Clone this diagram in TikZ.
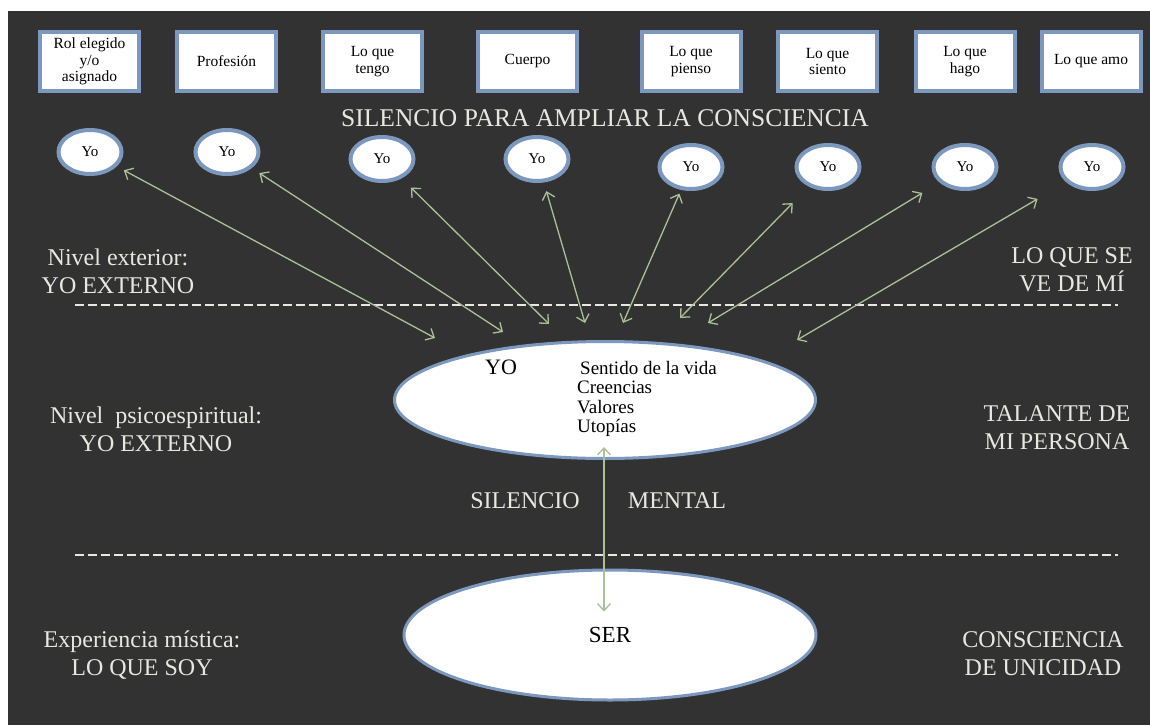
\documentclass[tikz,border=0pt]{standalone}
\usepackage{fontspec}
\setmainfont{Liberation Serif}
\usetikzlibrary{shapes.geometric,arrows.meta}
\definecolor{slatebg}{RGB}{50,50,50}
\definecolor{frameblue}{RGB}{124,152,190}
\definecolor{sagegreen}{RGB}{170,192,150}
\definecolor{chalk}{RGB}{232,232,226}
\tikzset{
  rolebox/.style={rectangle, draw=frameblue, line width=4pt, fill=white,
    minimum width=99pt, minimum height=58pt, inner sep=2pt, align=center,
    font=\fontsize{15.5}{16.5}\selectfont},
  yobubble/.style={ellipse, draw=frameblue, line width=4pt, fill=white,
    minimum width=63pt, minimum height=44pt, inner sep=0pt, font=\fontsize{15}{16}\selectfont},
  bigoval/.style={ellipse, draw=frameblue, line width=3pt, fill=white, inner sep=0pt},
  chalktext/.style={text=chalk, align=center, font=\fontsize{24}{28}\selectfont},
  dblarrow/.style={{Straight Barb[length=7pt,width=13pt]}-{Straight Barb[length=7pt,width=13pt]},
    sagegreen, line width=1.3pt},
  levelline/.style={chalk, line width=2pt, dash pattern=on 9pt off 4pt}
}

\begin{document}
\begin{tikzpicture}[x=1pt, y=-1pt]
  \useasboundingbox (0,0) rectangle (1150,725);
  \fill[white] (0,0) rectangle (1150,725);
  \fill[slatebg] (8,11) rectangle (1150,725);

  % top row
  \node[rolebox] (rol) at (89.5,61.5) {Rol elegido\\y/o\\asignado};
  \node[rolebox] (prof) at (226.5,61.5) {Profesión};
  \node[rolebox] (tengo) at (372.5,61.5) {Lo que\\tengo};
  \node[rolebox] (cuerpo) at (527.5,61.5) {Cuerpo};
  \node[rolebox] (pienso) at (691,61.5) {Lo que\\pienso};
  \node[rolebox] (siento) at (827.5,61.5) {Lo que\\siento};
  \node[rolebox] (hago) at (965,61.5) {Lo que\\hago};
  \node[rolebox] (amo) at (1091,61.5) {Lo que amo};

  \node[chalktext, font=\fontsize{25.5}{28}\selectfont] (ampliar) at (605,118) {SILENCIO PARA AMPLIAR LA CONSCIENCIA};

  % the eight Yo
  \node[yobubble] (y1) at (90,152) {Yo};
  \node[yobubble] (y2) at (227,152) {Yo};
  \node[yobubble] (y3) at (382,159) {Yo};
  \node[yobubble] (y4) at (537,159) {Yo};
  \node[yobubble] (y5) at (691,167) {Yo};
  \node[yobubble] (y6) at (828,167) {Yo};
  \node[yobubble] (y7) at (965,167) {Yo};
  \node[yobubble] (y8) at (1092,167) {Yo};

  % levels
  \node[chalktext] (ext) at (118,271) {Nivel exterior:\\YO EXTERNO};
  \node[chalktext] (vemi) at (1072,270) {LO QUE SE\\VE DE MÍ};
  \draw[levelline] (75,305) -- (1118,305);

  \node[chalktext] (psico) at (156,429) {Nivel\ \ psicoespiritual:\\YO EXTERNO};
  \node[chalktext] (talante) at (1057,428) {TALANTE DE\\MI PERSONA};

  \node[bigoval, minimum width=421pt, minimum height=117pt] (yo) at (605,400) {};
  \node[font=\fontsize{22}{24}\selectfont] (yolbl) at (501,367) {YO};
  \node[anchor=west, align=left, inner sep=0pt, font=\fontsize{19}{19.3}\selectfont] (vals) at (577,399)
    {\hspace{3pt}Sentido de la vida\\Creencias\\Valores\\Utopías};

  \node[chalktext] (silencio) at (525,501) {SILENCIO};
  \node[chalktext] (mental) at (677,501) {MENTAL};
  \draw[levelline] (75,555) -- (1118,555);

  \node[bigoval, minimum width=412pt, minimum height=130pt, font=\fontsize{23}{24}\selectfont] (ser) at (610,635) {SER};
  \node[chalktext] (mistica) at (142,655) {Experiencia mística:\\LO QUE SOY};
  \node[chalktext] (unicidad) at (1043,654) {CONSCIENCIA\\DE UNICIDAD};

  % arrows to YO
  \coordinate (l1) at (435,338);
  \coordinate (l2) at (503,332);
  \coordinate (l3) at (549,324);
  \coordinate (l4) at (585,323);
  \coordinate (l5) at (623,323);
  \coordinate (l6) at (680,318);
  \coordinate (l7) at (708,323);
  \coordinate (l8) at (797,340);
  \foreach \i/\s in {1/8,2/9,3/13,4/9,5/4,6/23,7/20,8/33}
    \draw[dblarrow, shorten <=\s pt] (y\i) -- (l\i);

  \draw[dblarrow, shorten <=-13pt, shorten >=-43pt] (yo.south -| 604,0) -- (ser.north -| 604,0);
\end{tikzpicture}
\end{document}
